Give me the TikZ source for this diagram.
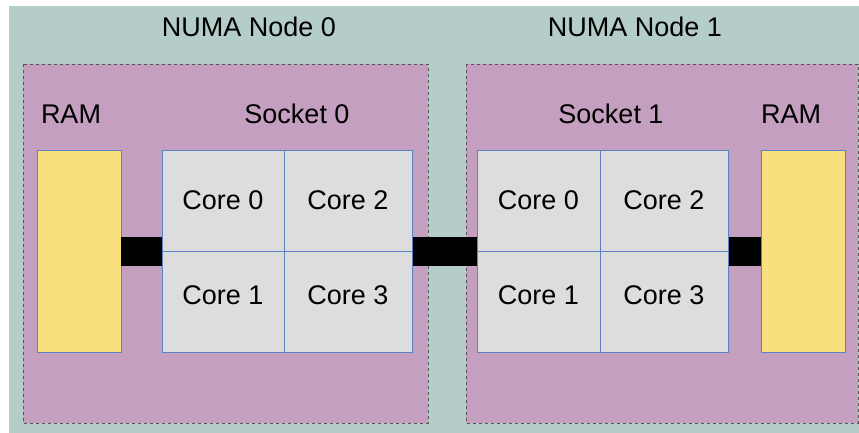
\documentclass[tikz,border=0pt]{standalone}
\usepackage{fontspec}
\setmainfont{Liberation Sans}
\definecolor{teal0}{HTML}{B4CDC8}
\definecolor{purp0}{HTML}{C49FBF}
\definecolor{ramy}{HTML}{F9E07F}
\definecolor{coreg}{HTML}{DDDDDD}
\definecolor{edgeb}{HTML}{5A83C6}
\definecolor{dashg}{HTML}{555555}
\tikzset{
  numabox/.style={fill=purp0, draw=dashg, line width=0.9pt, dash pattern=on 3pt off 3pt},
  ramcell/.style={fill=ramy, draw=edgeb, line width=0.9pt, inner sep=0pt, outer sep=0pt,
    minimum width=84pt, minimum height=202pt, anchor=north west},
  corecell/.style={fill=coreg, draw=edgeb, line width=0.8pt, inner sep=0pt, outer sep=0pt,
    anchor=north west, font=\fontsize{27}{31}\selectfont},
  sockbox/.style={draw=edgeb, line width=0.9pt, inner sep=0pt, outer sep=0pt, anchor=north west},
  bar/.style={draw=black, line width=29pt},
  lbl/.style={font=\fontsize{27}{31}\selectfont, inner sep=0pt},
}
\begin{document}
\begin{tikzpicture}[x=1pt,y=-1pt]
\useasboundingbox (0,0) rectangle (859,433);
\fill[teal0] (9,6) rectangle (859,433);
\draw[numabox] (23,64) rectangle (428,423);
\draw[numabox] (466,64) rectangle (858,423);
% labels
\node[lbl] (numa0) at (249,27) {NUMA Node 0};
\node[lbl] (numa1) at (635,27) {NUMA Node 1};
\node[lbl] (ramlbl0) at (71,114) {RAM};
\node[lbl] (sock0lbl) at (297,114) {Socket 0};
\node[lbl] (sock1lbl) at (611,114) {Socket 1};
\node[lbl] (ramlbl1) at (791,114) {RAM};
% RAM
\node[ramcell] (ram0) at (37,150) {};
\node[ramcell] (ram1) at (761,150) {};
% socket outlines
\node[sockbox, minimum width=250pt, minimum height=202pt] (s0) at (162,150) {};
\node[sockbox, minimum width=251pt, minimum height=202pt] (s1) at (477,150) {};
% bars
\draw[bar] (ram0.east) -- (s0.west);
\draw[bar] (s0.east) -- (s1.west);
\draw[bar] (s1.east) -- (ram1.west);
% cores socket 0
\node[corecell, minimum width=122pt, minimum height=101pt] (s0c0) at (162,150) {Core 0};
\node[corecell, minimum width=128pt, minimum height=101pt] (s0c2) at (284,150) {Core 2};
\node[corecell, minimum width=122pt, minimum height=101pt] (s0c1) at (162,251) {\raisebox{12pt}{Core 1}};
\node[corecell, minimum width=128pt, minimum height=101pt] (s0c3) at (284,251) {\raisebox{12pt}{Core 3}};
% cores socket 1
\node[corecell, minimum width=123pt, minimum height=101pt] (s1c0) at (477,150) {Core 0};
\node[corecell, minimum width=128pt, minimum height=101pt] (s1c2) at (600,150) {Core 2};
\node[corecell, minimum width=123pt, minimum height=101pt] (s1c1) at (477,251) {\raisebox{12pt}{Core 1}};
\node[corecell, minimum width=128pt, minimum height=101pt] (s1c3) at (600,251) {\raisebox{12pt}{Core 3}};
\end{tikzpicture}
\end{document}
